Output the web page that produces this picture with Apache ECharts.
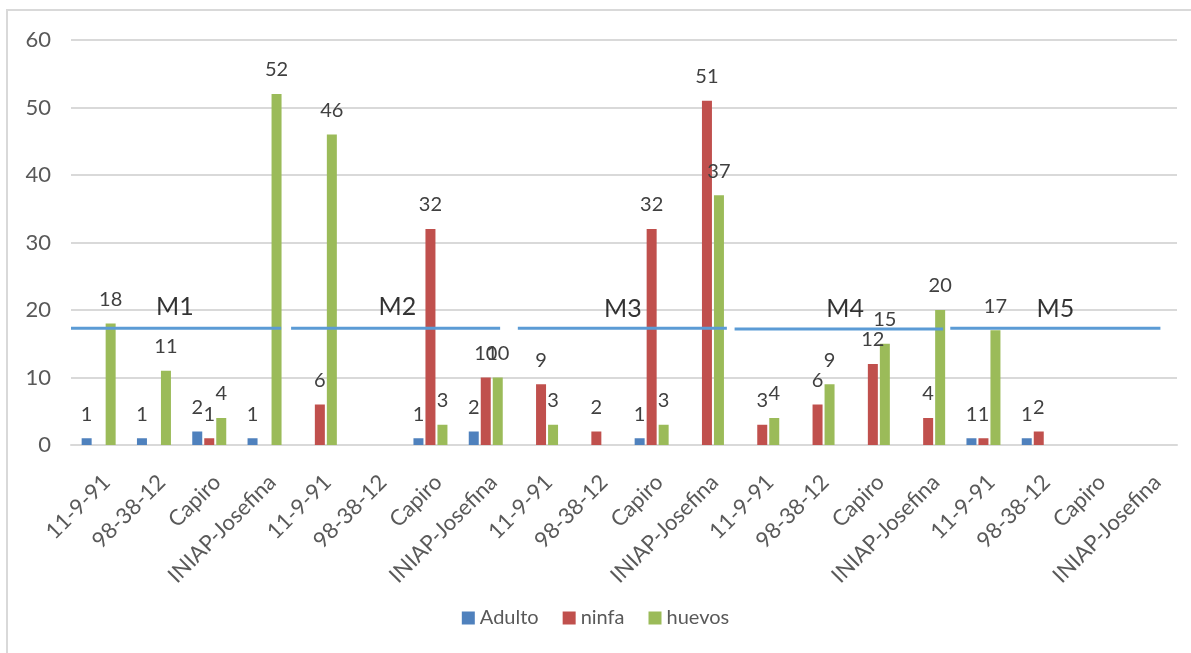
<!DOCTYPE html>
<html>
<head>
<meta charset="utf-8">
<script src="https://cdn.jsdelivr.net/npm/echarts@6/dist/echarts.min.js"></script>
<style>
  html, body { margin: 0; padding: 0; background: #fff; }
  #chart { width: 1191px; height: 653px; }
</style>
</head>
<body>
<div id="chart"></div>
<script>
const varieties = ['11-9-91', '98-38-12', 'Capiro', 'INIAP-Josefina'];
const categories = [].concat(varieties, varieties, varieties, varieties, varieties);

const adulto = [1, 1, 2, 1, null, null, 1, 2, null, null, 1, null, null, null, null, null, 1, 1, null, null];
const ninfa = [null, null, 1, null, 6, null, 32, 10, 9, 2, 32, 51, 3, 6, 12, 4, 1, 2, null, null];
const huevos = [18, 11, 4, 52, 46, null, 3, 10, 3, null, 3, 37, 4, 9, 15, 20, 17, null, null, null];

const yTicks = [0, 10, 20, 30, 40, 50, 60];

// muestreos: segments drawn across each group of four varieties
const mLabels = ['M1', 'M2', 'M3', 'M4', 'M5'];
const mStart = [0, 3.98, 8.08, 12.0, 15.9];
const mEnd = [3.8, 7.76, 11.86, 15.77, 19.7];
const mLevel = [17.3, 17.3, 17.3, 17.2, 17.3];
const mLabelX = [1.88, 5.9, 9.98, 14.0, 17.8];
const mLabelY = [20.4, 20.4, 20.1, 20.1, 20.1];

const chart = echarts.init(document.getElementById('chart'), null, { renderer: 'canvas' });

const font = 'Lato, "Open Sans", sans-serif';

const barSeries = (name, data, color) => ({
  name,
  type: 'bar',
  data,
  barWidth: 10,
  barGap: '20%',
  itemStyle: { color },
  label: {
    show: true,
    position: 'top',
    distance: 14,
    color: '#404040',
    fontSize: 20,
    fontFamily: font
  }
});

const segmentSeries = mLabels.map((m, i) => ({
  name: m,
  type: 'line',
  xAxisIndex: 1,
  data: [[mStart[i], mLevel[i]], [mEnd[i], mLevel[i]]],
  symbol: 'none',
  silent: true,
  lineStyle: { color: '#5B9BD5', width: 3 },
  z: 5
}));

const option = {
  animation: false,
  textStyle: { fontFamily: font },
  graphic: [{
    type: 'rect',
    shape: { x: 7, y: 10, width: 1200, height: 660 },
    style: { fill: 'none', stroke: '#d9d9d9', lineWidth: 2 },
    silent: true
  }],
  grid: { left: 71, right: 14, top: 40, bottom: 208 },
  legend: {
    data: ['Adulto', 'ninfa', 'huevos'],
    bottom: 20,
    left: 'center',
    itemWidth: 13,
    itemHeight: 13,
    itemGap: 24,
    icon: 'rect',
    textStyle: { color: '#595959', fontSize: 20, fontFamily: font }
  },
  xAxis: [{
    type: 'category',
    data: categories,
    axisLine: { lineStyle: { color: '#d9d9d9', width: 2 } },
    axisTick: { show: false },
    axisLabel: {
      interval: 0,
      rotate: 45,
      verticalAlign: 'top',
      color: '#595959',
      fontSize: 22,
      fontFamily: font,
      margin: 26
    }
  }, {
    type: 'value',
    min: 0,
    max: 20,
    show: false
  }],
  yAxis: {
    type: 'value',
    min: yTicks[0],
    max: yTicks[yTicks.length - 1],
    interval: 10,
    axisLine: { show: false },
    axisTick: { show: false },
    splitLine: { lineStyle: { color: '#d9d9d9', width: 2 } },
    axisLabel: { color: '#595959', fontSize: 22, fontFamily: font, margin: 20 }
  },
  series: [
    barSeries('Adulto', adulto, '#4F81BD'),
    barSeries('ninfa', ninfa, '#C0504D'),
    barSeries('huevos', huevos, '#9BBB59'),
    ...segmentSeries,
    {
      name: 'muestreo',
      type: 'scatter',
      xAxisIndex: 1,
      symbolSize: 0,
      silent: true,
      data: mLabels.map((m, i) => ({ name: m, value: [mLabelX[i], mLabelY[i]] })),
      label: {
        show: true,
        position: 'inside',
        formatter: p => p.name,
        color: '#000',
        fontSize: 25,
        fontFamily: font
      },
      z: 6
    }
  ]
};

chart.setOption(option);
</script>
</body>
</html>
